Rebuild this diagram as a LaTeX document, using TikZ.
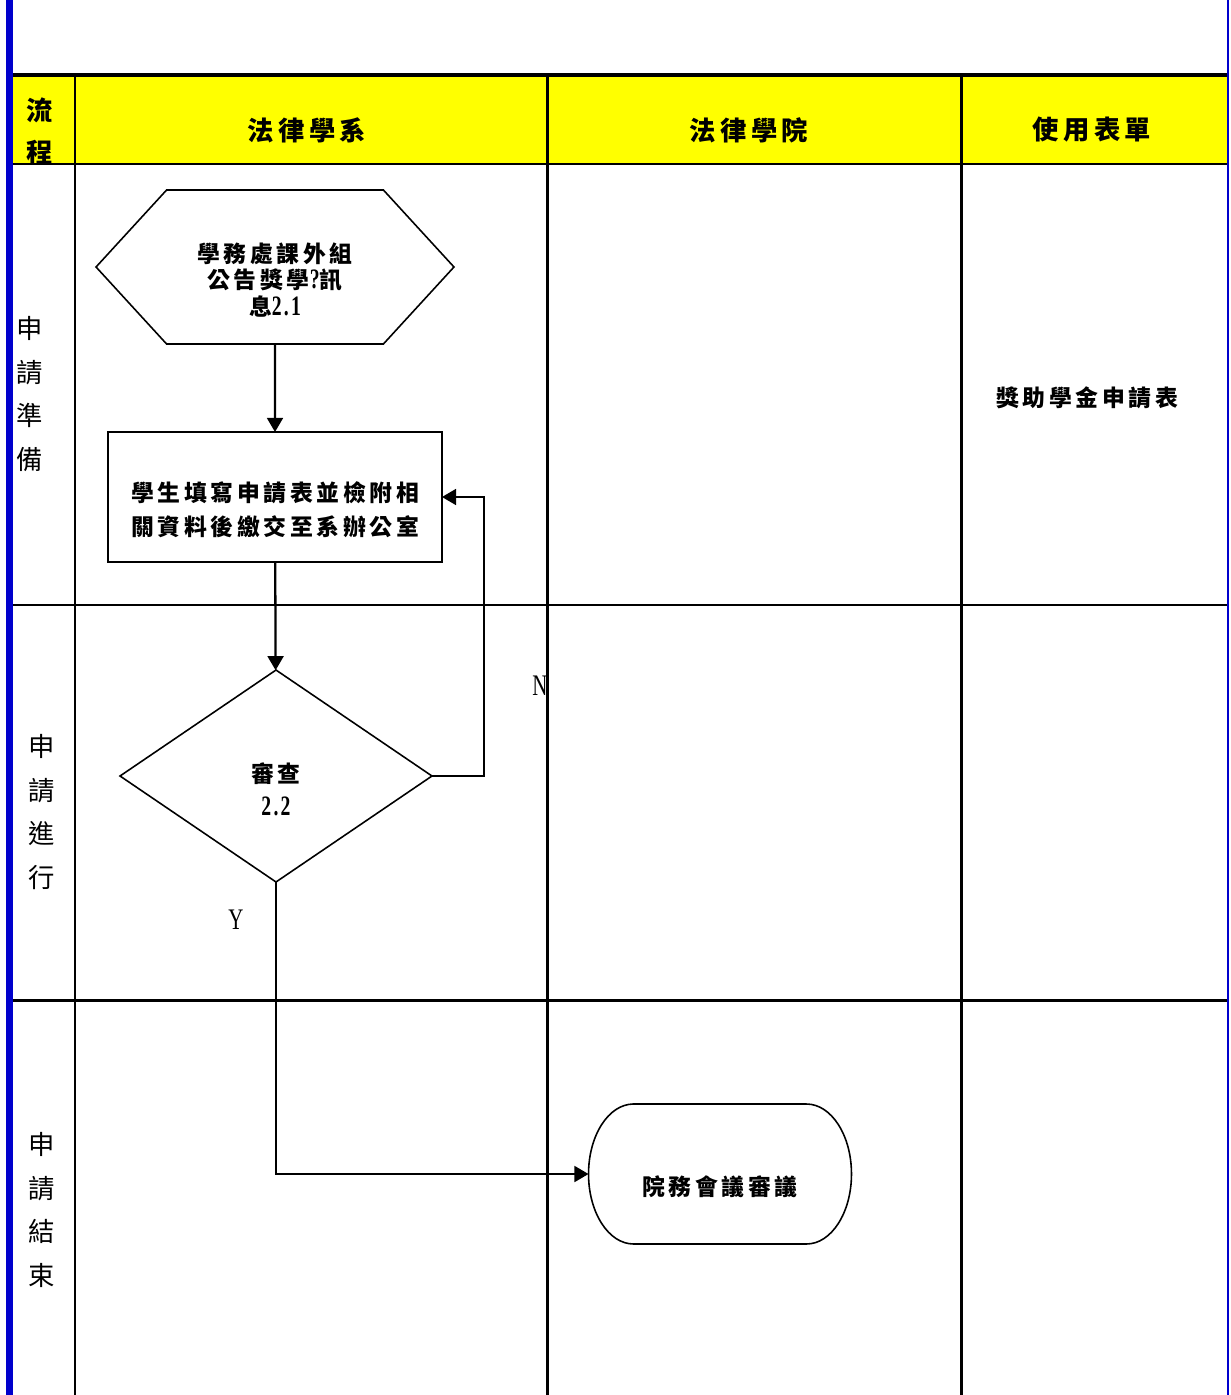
\documentclass[tikz,border=0pt]{standalone}
\usepackage{fontspec}
\newfontfamily\cjk{Noto Sans CJK TC}
\newfontfamily\cjksp[LetterSpace=16]{Noto Sans CJK TC}
\newfontfamily\narrow[FakeStretch=0.7,LetterSpace=8]{Liberation Serif}
\usetikzlibrary{shapes.geometric,shapes.symbols,arrows.meta}
\definecolor{laneblue}{RGB}{0,0,204}
\definecolor{headyellow}{RGB}{255,255,0}
\newcommand\lowr{\rule{0pt}{26pt}}
\newcommand\digs[1]{{\narrow\fontsize{16}{16}\selectfont #1}}

\tikzset{
  grid/.style={line width=1.7pt},
  shapeline/.style={draw, line width=0.9pt, align=center, inner sep=0pt, outer sep=0pt,
    font=\cjksp\bfseries\fontsize{13}{15.3}\selectfont},
  flow/.style={line width=1.3pt, -{Triangle[length=8pt,width=9pt]}},
  headtext/.style={font=\cjksp\bfseries\fontsize{15}{24}\selectfont},
  lanetext/.style={align=center, font=\cjk\fontsize{15}{25}\selectfont},
  yn/.style={font=\narrow\fontsize{17}{19}\selectfont}
}

\begin{document}
\begin{tikzpicture}[x=0.02cm, y=-0.02cm]
\useasboundingbox (0,0) rectangle (1230,1395);

% header
\fill[headyellow] (12,77) rectangle (1227,163);
\begin{scope}
\clip (12,77) rectangle (75,163);
\node[headtext, align=center] (hflow) at (40,131) {流\\程};
\end{scope}
\node[headtext] (hdept) at (307,130) {法律學系};
\node[headtext] (hcoll) at (749,130) {法律學院};
\node[headtext] (hform) at (1092,130) {使用表單};

% lanes
\draw[line width=2.4pt] (12,75) -- (1228,75);
\draw[grid] (12,164) -- (1228,164);
\draw[grid] (12,605) -- (1228,605);
\draw[grid] (12,1000) -- (1228,1000);
\draw[grid] (75,75) -- (75,1395);
\draw[grid] (547,75) -- (547,1395);
\draw[grid] (961,75) -- (961,1395);
\draw[laneblue, line width=4pt] (9.5,0) -- (9.5,1395);
\draw[laneblue, line width=1.2pt] (1228,0) -- (1228,1395);

\node[lanetext] (prep) at (30,394) {申\\請\\準\\備};
\node[lanetext] (proc) at (42,812) {申\\請\\進\\行};
\node[lanetext] (fin) at (42,1210) {申\\請\\結\\束};

% flow
\node[shapeline, signal, signal to=west and east, signal pointer angle=95,
  minimum width=7.16cm, minimum height=3.08cm] (info) at (275,267)
  {\lowr 學務處課外組\\公告獎學\digs{?}訊\\息\digs{2.1}};
\node[shapeline, rectangle, minimum width=6.68cm, minimum height=2.6cm,
  font=\cjksp\bfseries\fontsize{13}{19.5}\selectfont] (apply) at (275,497)
  {\lowr 學生填寫申請表並檢附相\\關資料後繳交至系辦公室};
\node[shapeline, diamond, aspect=1.47, minimum width=6.24cm, minimum height=4.24cm,
  font=\cjksp\bfseries\fontsize{13}{18.7}\selectfont] (check) at (276,776)
  {\lowr 審查\\\digs{2.2}};
\node[shapeline, draw=none, minimum width=5.26cm, minimum height=2.8cm]
  (meeting) at (720,1174) {\lowr 院務會議審議};
\draw[line width=0.9pt] ([xshift=0.9cm]meeting.north west) -- ([xshift=-0.9cm]meeting.north east)
  arc[start angle=90, end angle=-90, x radius=0.9cm, y radius=1.4cm]
  -- ([xshift=0.9cm]meeting.south west)
  arc[start angle=270, end angle=90, x radius=0.9cm, y radius=1.4cm] -- cycle;
\node[font=\cjksp\bfseries\fontsize{13}{15}\selectfont] (form) at (1087,398) {獎助學金申請表};

\coordinate (back) at (484,776);
\draw[flow] (info) -- (apply);
\draw[flow] (apply) -- (check);
\draw[flow] (check.east) -- (back) |- (apply.east);
\draw[flow] (check.south) |- (meeting.west);
\node[yn] (no) at (540,686) {N};
\node[yn] (yes) at (236,920) {Y};
\end{tikzpicture}
\end{document}
